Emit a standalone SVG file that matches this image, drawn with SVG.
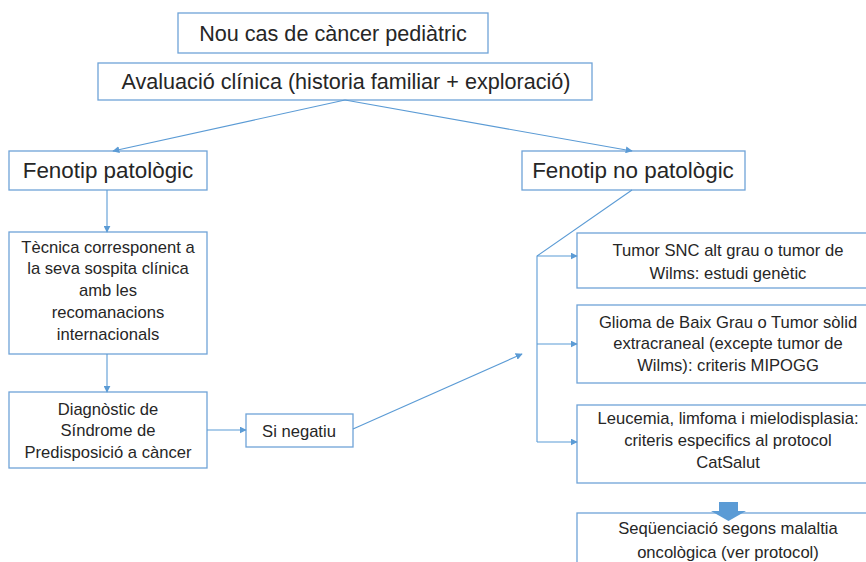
<svg xmlns="http://www.w3.org/2000/svg" width="866" height="562" viewBox="0 0 866 562">
<style>
.box{fill:#ffffff;stroke:#6fa3d8;stroke-width:1.3}
.ln{fill:none;stroke:#5b9bd5;stroke-width:1.1}
text{font-family:"Liberation Sans","Open Sans",sans-serif;fill:#262626;text-anchor:middle}
.big{font-size:21.6px}
.fen{font-size:22.4px}
.mid{font-size:21.6px}
.sm{font-size:16.6px}
</style>
<defs>
<marker id="ah" viewBox="0 0 10 10" refX="9" refY="5" markerWidth="7" markerHeight="7" markerUnits="userSpaceOnUse" orient="auto">
<path d="M0,0 L10,5 L0,10 z" fill="#5b9bd5"/>
</marker>
</defs>
<rect x="0" y="0" width="866" height="562" fill="#ffffff"/>
<g id="n1"><rect class="box" x="178" y="13" width="310" height="40"/><text class="big" x="333" y="41">Nou cas de càncer pediàtric</text></g>
<g id="n2"><rect class="box" x="98" y="63" width="494" height="37"/><text class="mid" x="346" y="89">Avaluació clínica (historia familiar + exploració)</text></g>
<g id="n3"><rect class="box" x="9" y="151" width="198" height="39"/><text class="fen" x="108" y="178">Fenotip patològic</text></g>
<g id="n4"><rect class="box" x="522" y="151" width="223" height="39"/><text class="fen" x="633" y="178">Fenotip no patològic</text></g>
<g id="n5"><rect class="box" x="9" y="232" width="198" height="122"/>
<text class="sm"><tspan x="108" y="253">Tècnica corresponent a</tspan><tspan x="108" y="274">la seva sospita clínica</tspan><tspan x="108" y="296">amb les</tspan><tspan x="108" y="318">recomanacions</tspan><tspan x="108" y="340">internacionals</tspan></text></g>
<g id="n6"><rect class="box" x="9" y="392" width="198" height="76"/>
<text class="sm"><tspan x="108" y="415">Diagnòstic de</tspan><tspan x="108" y="436">Síndrome de</tspan><tspan x="108" y="458">Predisposició a càncer</tspan></text></g>
<g id="n7"><rect class="box" x="246" y="414" width="107" height="33"/><text class="sm" x="299" y="437">Si negatiu</text></g>
<g id="n8"><rect class="box" x="577" y="233" width="300" height="55"/>
<text class="sm"><tspan x="728" y="256">Tumor SNC alt grau o tumor de</tspan><tspan x="728" y="279">Wilms: estudi genètic</tspan></text></g>
<g id="n9"><rect class="box" x="577" y="305" width="300" height="78"/>
<text class="sm"><tspan x="728" y="328">Glioma de Baix Grau o Tumor sòlid</tspan><tspan x="728" y="349">extracraneal (excepte tumor de</tspan><tspan x="728" y="371">Wilms): criteris MIPOGG</tspan></text></g>
<g id="n10"><rect class="box" x="577" y="405" width="300" height="78"/>
<text class="sm"><tspan x="728" y="424">Leucemia, limfoma i mielodisplasia:</tspan><tspan x="728" y="446">criteris especifics al protocol</tspan><tspan x="728" y="468">CatSalut</tspan></text></g>
<g id="n11"><rect class="box" x="577" y="513" width="300" height="60"/>
<text class="sm"><tspan x="728" y="534">Seqüenciació segons malaltia</tspan><tspan x="728" y="558">oncològica (ver protocol)</tspan></text></g>
<g id="connectors">
<line class="ln" x1="345" y1="100" x2="113" y2="151" marker-end="url(#ah)"/>
<line class="ln" x1="345" y1="100" x2="632" y2="151" marker-end="url(#ah)"/>
<line class="ln" x1="107" y1="190" x2="107" y2="232" marker-end="url(#ah)"/>
<line class="ln" x1="107" y1="354" x2="107" y2="392" marker-end="url(#ah)"/>
<line class="ln" x1="207" y1="430" x2="246" y2="430" marker-end="url(#ah)"/>
<line class="ln" x1="353" y1="429" x2="522" y2="354" marker-end="url(#ah)"/>
<polyline class="ln" points="632,190 537,256 537,442"/>
<line class="ln" x1="537" y1="256" x2="577" y2="256" marker-end="url(#ah)"/>
<line class="ln" x1="537" y1="344" x2="577" y2="344" marker-end="url(#ah)"/>
<line class="ln" x1="537" y1="442" x2="577" y2="442" marker-end="url(#ah)"/>
<path d="M719,502 L738,502 L738,511 L746,511 L728.5,521 L711,511 L719,511 z" fill="#5b9bd5"/>
</g>
</svg>
